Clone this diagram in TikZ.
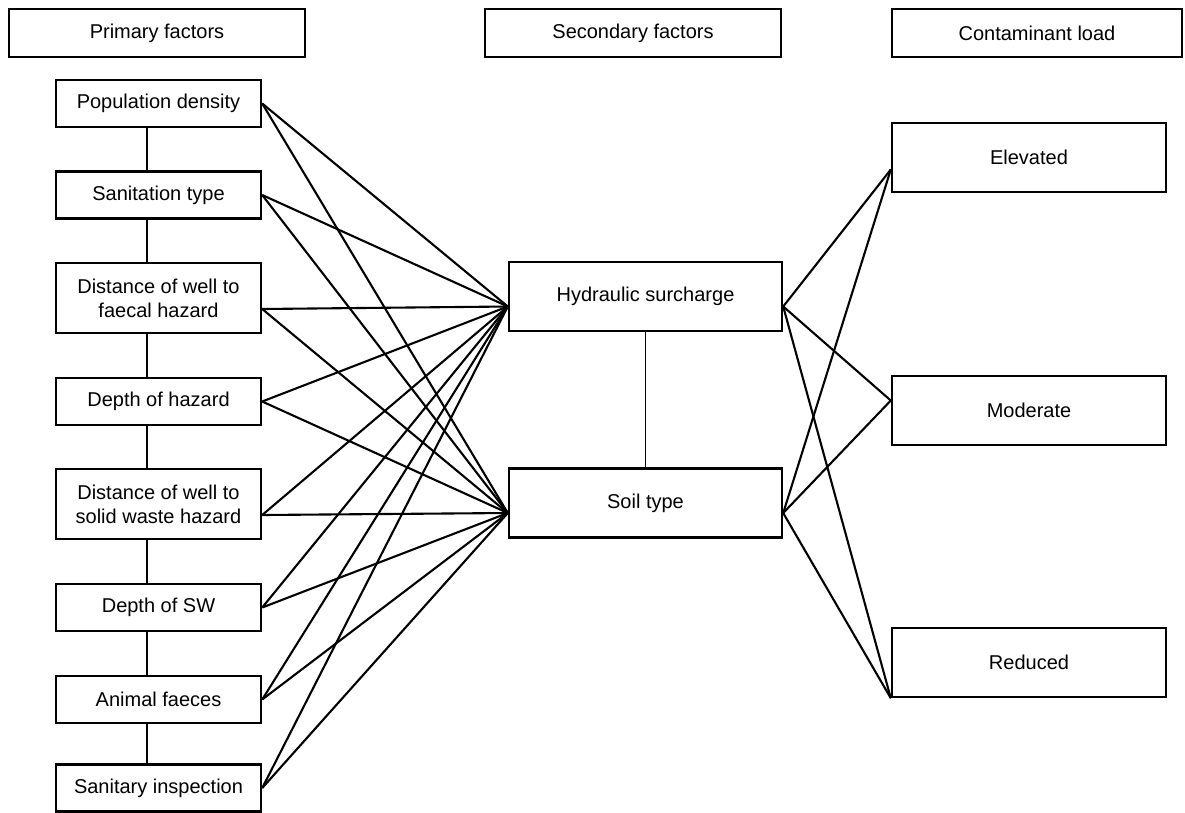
\documentclass[tikz,border=0pt]{standalone}
\usepackage{fontspec}
\setmainfont{Liberation Sans}
\usetikzlibrary{calc}
\begin{document}
\begin{tikzpicture}[x=1pt,y=-1pt,
  every node/.style={font=\fontsize{20}{24}\selectfont},
  boxnode/.style={draw, line width=2.4pt, inner sep=0pt, align=center},
  hdr/.style={boxnode, minimum width=296pt, minimum height=48pt},
  lbox/.style={boxnode, minimum width=205pt, minimum height=47pt},
  lboxtwo/.style={boxnode, minimum width=205pt, minimum height=70pt},
  mbox/.style={boxnode, minimum width=273pt, minimum height=69pt},
  rbox/.style={boxnode, minimum width=274pt, minimum height=69pt},
  link/.style={line width=2.1pt},
  stem/.style={line width=1.7pt}]
\useasboundingbox (0,0) rectangle (1185,812);

% headers
\node[hdr] (hp) at (157,33) {Primary factors};
\node[hdr] (hs) at (633,33) {Secondary factors};
\node[hdr, minimum width=290pt] (hc) at (1037,33) {Contaminant load};

% primary factors
\node[lbox] (pop) at (158.5,103.5) {Population density};
\node[lbox] (san) at (158.5,195) {Sanitation type};
\node[lboxtwo] (fae) at (158.5,298) {Distance of well to\\faecal hazard};
\node[lbox] (dep) at (158.5,401.5) {Depth of hazard};
\node[lboxtwo] (sol) at (158.5,504) {Distance of well to\\solid waste hazard};
\node[lbox] (sw) at (158.5,607.5) {Depth of SW};
\node[lbox] (ani) at (158.5,699.5) {Animal faeces};
\node[lbox] (ins) at (158.5,788) {Sanitary inspection};

% secondary factors
\node[mbox] (hyd) at (645.5,296.5) {Hydraulic surcharge};
\node[mbox] (soil) at (645.5,503) {Soil type};

% contaminant load
\node[rbox] (ele) at (1029,157.5) {Elevated};
\node[rbox] (mod) at (1029,410.5) {Moderate};
\node[rbox] (red) at (1029,662.5) {Reduced};

% anchor points
\coordinate (popR) at (pop.east);
\coordinate (sanR) at (san.east);
\coordinate (faeR) at ($(fae.east)+(0,11)$);
\coordinate (depR) at (dep.east);
\coordinate (solR) at ($(sol.east)+(0,11)$);
\coordinate (swR) at (sw.east);
\coordinate (aniR) at (ani.east);
\coordinate (insR) at (ins.east);
\coordinate (hydL) at ($(hyd.west)+(0,10)$);
\coordinate (hydR) at ($(hyd.east)+(0,10)$);
\coordinate (soilL) at ($(soil.west)+(0,10)$);
\coordinate (soilR) at ($(soil.east)+(0,10)$);
\coordinate (eleL) at ($(ele.west)+(0,12)$);
\coordinate (modL) at ($(mod.west)+(0,-10)$);
\coordinate (redL) at (red.south west);
\coordinate (vx) at (147,0);

% primary -> secondary
\foreach \a in {popR,sanR,faeR,depR,solR,swR,aniR,insR}{
  \draw[link] (\a) -- (hydL);
  \draw[link] (\a) -- (soilL);
}
% secondary -> load
\foreach \a in {hydR,soilR}{
  \foreach \b in {eleL,modL,redL}{
    \draw[link] (\a) -- (\b);
  }
}
% vertical stems
\foreach \a/\b in {pop/san,san/fae,fae/dep,dep/sol,sol/sw,sw/ani,ani/ins}{
  \draw[stem] (\a.south -| vx) -- (\b.north -| vx);
}
\draw[stem] (hyd) -- (soil);
\end{tikzpicture}
\end{document}
